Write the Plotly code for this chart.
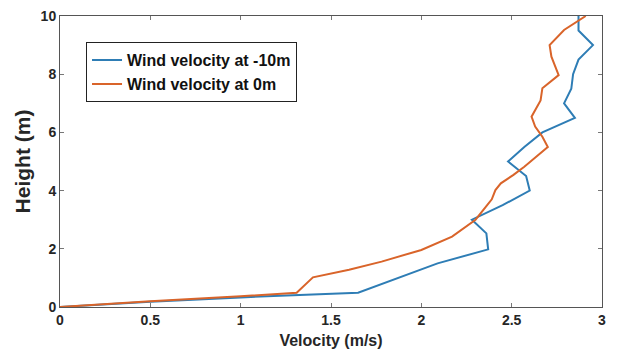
import plotly.graph_objects as go

# Blue series: wind velocity at -10 m
v_m10 = [0, 0.5, 1.0, 1.33, 1.65, 2.09, 2.37, 2.36, 2.28, 2.45, 2.60, 2.58, 2.48, 2.57, 2.67, 2.85, 2.79, 2.83, 2.84, 2.87, 2.95, 2.87, 2.87]
h_m10 = [0, 0.18, 0.33, 0.41, 0.49, 1.5, 1.98, 2.53, 3.0, 3.5, 4.0, 4.5, 5.0, 5.5, 6.0, 6.5, 7.0, 7.5, 8.0, 8.5, 9.0, 9.5, 10]

# Orange series: wind velocity at 0 m
v_0 = [0, 0.5, 1.0, 1.31, 1.40, 1.6, 1.78, 2.0, 2.17, 2.30, 2.35, 2.39, 2.41, 2.44, 2.51, 2.57, 2.70, 2.67, 2.63, 2.61, 2.66, 2.67, 2.76, 2.72, 2.71, 2.79, 2.91]
h_0 = [0, 0.2, 0.37, 0.49, 1.02, 1.28, 1.56, 1.96, 2.42, 3.0, 3.39, 3.7, 4.02, 4.25, 4.54, 4.82, 5.5, 5.85, 6.2, 6.54, 7.1, 7.52, 7.97, 8.6, 9.0, 9.52, 10]

x_ticks = [0, 0.5, 1, 1.5, 2, 2.5, 3]
x_labels = ["0", "0.5", "1", "1.5", "2", "2.5", "3"]
y_ticks = [0, 2, 4, 6, 8, 10]

fig = go.Figure()
fig.add_trace(go.Scatter(x=v_m10, y=h_m10, mode="lines", name="<b>Wind velocity at -10m</b>",
                         line=dict(color="#2E7DB5", width=2)))
fig.add_trace(go.Scatter(x=v_0, y=h_0, mode="lines", name="<b>Wind velocity at 0m</b>",
                         line=dict(color="#D9642A", width=2)))

axis_common = dict(showline=True, linecolor="#555555", linewidth=1, mirror="ticks",
                   ticks="inside", ticklen=4, tickcolor="#777777", showgrid=False, zeroline=False,
                   automargin=False,
                   tickfont=dict(family="Liberation Sans", size=14, color="#262626"))

fig.update_layout(
    width=618, height=356,
    margin=dict(l=60, r=16, t=16, b=49),
    paper_bgcolor="white", plot_bgcolor="white",
    font=dict(family="Liberation Sans", color="#262626"),
    showlegend=True,
    legend=dict(x=0.048, y=0.91, xanchor="left", yanchor="top",
                bgcolor="white", bordercolor="#222222", borderwidth=1,
                font=dict(family="Liberation Sans", size=16, color="#111111"),
                itemwidth=30, tracegroupgap=0),
    xaxis=dict(range=[0, 3], tickvals=x_ticks, ticktext=["<b>%s</b>" % t for t in x_labels],
               title=dict(text="<b>Velocity (m/s)</b>", font=dict(size=16, color="#262626"), standoff=8),
               **axis_common),
    yaxis=dict(range=[0, 10], tickvals=y_ticks, ticktext=["<b>%d</b>" % t for t in y_ticks],
               title=dict(text="<b>Height (m)</b>", font=dict(size=21, color="#262626"), standoff=4),
               **axis_common),
)

fig.write_html("out.html")
